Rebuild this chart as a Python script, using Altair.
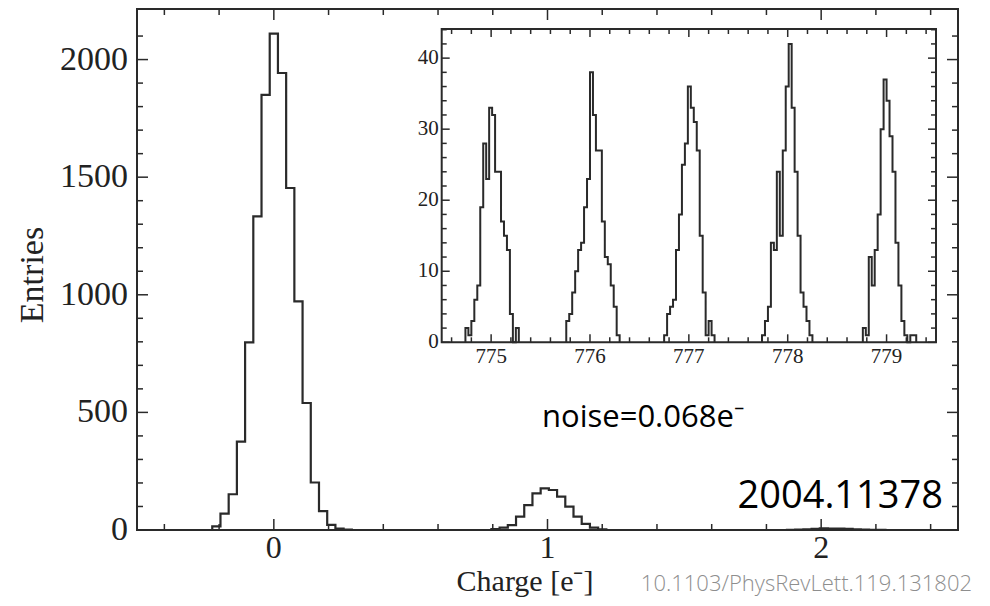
import altair as alt
import pandas as pd

# ---------------- data ----------------
BIN_W = 0.03
# main histogram: (first bin left edge, counts)
main_start_0 = -0.225
main_counts_0 = [15, 70, 152, 376, 798, 1333, 1850, 2110, 1943, 1454, 972, 540, 202, 80, 22, 6, 2]
main_start_1 = 0.795
main_counts_1 = [4, 10, 21, 57, 106, 156, 177, 170, 142, 99, 57, 26, 10, 3]
main_start_2 = 1.875
main_counts_2 = [1, 2, 3, 5, 7, 6, 6, 5, 3, 2, 1, 1]

# inset histogram peaks
inset_starts = [774.74, 775.76, 776.75, 777.74, 778.76]
inset_775 = [2, 1, 3, 6, 8, 19, 28, 23, 33, 32, 24, 24, 17, 15, 13, 4, 0, 2]
inset_776 = [3, 4, 7, 10, 13, 14, 19, 23, 38, 32, 27, 27, 17, 12, 11, 8, 5, 1]
inset_777 = [1, 4, 5, 6, 13, 18, 25, 28, 36, 33, 31, 27, 15, 7, 1, 3, 1]
inset_778 = [1, 3, 5, 14, 13, 24, 15, 27, 36, 42, 33, 24, 15, 7, 5, 3, 1]
inset_779 = [2, 1, 12, 8, 13, 18, 30, 37, 34, 29, 24, 14, 8, 3, 1, 0, 1, 1]

main_x_domain = [-0.5, 2.5]
main_y_domain = [0, 2215]
inset_x_domain = [774.5, 779.5]
inset_y_domain = [0, 44.1]

main_x_major = [0, 1, 2]
main_x_labels = ["0", "1", "2"]
main_x_minor = [-0.4, -0.2, 0.2, 0.4, 0.6, 0.8, 1.2, 1.4, 1.6, 1.8, 2.2, 2.4]
main_y_major = [0, 500, 1000, 1500, 2000]
main_y_labels = ["0", "500", "1000", "1500", "2000"]
main_y_minor = [100, 200, 300, 400, 600, 700, 800, 900, 1100, 1200, 1300, 1400,
                1600, 1700, 1800, 1900, 2100]
inset_x_major = [775, 776, 777, 778, 779]
inset_x_labels = ["775", "776", "777", "778", "779"]
inset_x_minor = [774.6, 774.8, 775.2, 775.4, 775.6, 775.8, 776.2, 776.4, 776.6, 776.8,
                 777.2, 777.4, 777.6, 777.8, 778.2, 778.4, 778.6, 778.8, 779.2, 779.4]
inset_y_major = [0, 10, 20, 30, 40]
inset_y_labels = ["0", "10", "20", "30", "40"]
inset_y_minor = [2, 4, 6, 8, 12, 14, 16, 18, 22, 24, 26, 28, 32, 34, 36, 38, 42, 44]

x_title = "Charge [e⁻]"
y_title = "Entries"
noise_label = "noise=0.068e⁻"
arxiv_label = "2004.11378"
doi_label = "10.1103/PhysRevLett.119.131802"

# ---------------- layout constants ----------------
W, H = 821, 521
IX0, IX1, IY0, IY1 = 304.7, 799.0, 333.3, 20.0   # inset box in plot pixels
INK = "#2a2a2a"
SERIF = "Liberation Serif"
SANS = "Open Sans"


def steps(start, counts, name):
    rows = [{"x": round(start, 4), "y": 0}]
    for i, c in enumerate(counts):
        rows.append({"x": round(start + i * BIN_W, 4), "y": c})
    rows.append({"x": round(start + len(counts) * BIN_W, 4), "y": 0})
    for j, r in enumerate(rows):
        r["i"] = j
        r["s"] = name
    return rows


main_df = pd.DataFrame(
    steps(main_start_0, main_counts_0, "p0")
    + steps(main_start_1, main_counts_1, "p1")
    + steps(main_start_2, main_counts_2, "p2")
)
inset_df = pd.DataFrame(
    sum([steps(s, c, f"q{k}") for k, (s, c) in enumerate(
        zip(inset_starts, [inset_775, inset_776, inset_777, inset_778, inset_779]))], [])
)

mxs = alt.Scale(domain=main_x_domain, nice=False, zero=False)
mys = alt.Scale(domain=main_y_domain, nice=False, zero=False)
ixs = alt.Scale(domain=inset_x_domain, range=[IX0, IX1], nice=False, zero=False)
iys = alt.Scale(domain=inset_y_domain, range=[IY0, IY1], nice=False, zero=False)


def xticks(vals, scale, y_edge, length, direction):
    d = pd.DataFrame({"t": vals})
    return alt.Chart(d).mark_rule(color=INK, strokeWidth=1.5).encode(
        x=alt.X("t:Q", scale=scale, axis=None),
        y=alt.value(y_edge), y2=alt.value(y_edge + direction * length))


def yticks(vals, scale, x_edge, length, direction):
    d = pd.DataFrame({"t": vals})
    return alt.Chart(d).mark_rule(color=INK, strokeWidth=1.5).encode(
        y=alt.Y("t:Q", scale=scale, axis=None),
        x=alt.value(x_edge), x2=alt.value(x_edge + direction * length))


def xlabels(vals, labels, scale, y_pos, size):
    d = pd.DataFrame({"t": vals, "l": labels})
    return alt.Chart(d).mark_text(
        font=SERIF, fontSize=size, color="#222", align="center", baseline="middle"
    ).encode(x=alt.X("t:Q", scale=scale, axis=None), y=alt.value(y_pos), text="l:N")


def ylabels(vals, labels, scale, x_pos, size):
    d = pd.DataFrame({"t": vals, "l": labels})
    return alt.Chart(d).mark_text(
        font=SERIF, fontSize=size, color="#222", align="right", baseline="middle"
    ).encode(y=alt.Y("t:Q", scale=scale, axis=None), x=alt.value(x_pos), text="l:N")


def free_text(txt, x, y, **kw):
    return alt.Chart(pd.DataFrame({"l": [txt]})).mark_text(**kw).encode(
        x=alt.value(x), y=alt.value(y), text="l:N")


# ---------------- main panel ----------------
main_hist = alt.Chart(main_df).mark_line(
    interpolate="step-after", color=INK, strokeWidth=2.2
).encode(
    x=alt.X("x:Q", scale=mxs, axis=None),
    y=alt.Y("y:Q", scale=mys, axis=None),
    detail="s:N",
    order="i:Q",
)

main_ticks = [
    xticks(main_x_major, mxs, H, 11, -1), xticks(main_x_minor, mxs, H, 6, -1),
    xticks(main_x_major, mxs, 0, 11, 1), xticks(main_x_minor, mxs, 0, 6, 1),
    yticks(main_y_major, mys, 0, 11, 1), yticks(main_y_minor, mys, 0, 6, 1),
    yticks(main_y_major, mys, W, 11, -1), yticks(main_y_minor, mys, W, 6, -1),
]
main_labels = [
    xlabels(main_x_major, main_x_labels, mxs, H + 18, 32),
    ylabels(main_y_major, main_y_labels, mys, -9, 34),
    free_text(x_title, 388, 582, font=SERIF, fontSize=30, color="#222",
              align="center", baseline="alphabetic"),
    free_text(y_title, -104, 266, font=SERIF, fontSize=34, color="#222",
              align="center", baseline="middle", angle=270),
    free_text(noise_label, 405, 418, font=SANS, fontSize=31, color="black",
              align="left", baseline="alphabetic"),
    free_text(arxiv_label, 806, 499, font=SANS, fontSize=38, color="black",
              align="right", baseline="alphabetic"),
    free_text(doi_label, 835, 575, font=SANS, fontSize=22, fontWeight=300,
              color="#8e8e8e", align="right", baseline="middle"),
]

main_layer = alt.layer(main_hist, *main_ticks, *main_labels)

# ---------------- inset ----------------
box_df = pd.DataFrame({"x0": [inset_x_domain[0]], "x1": [inset_x_domain[1]],
                       "y0": [inset_y_domain[0]], "y1": [inset_y_domain[1]]})
inset_box = alt.Chart(box_df).mark_rect(fill="white", stroke=INK, strokeWidth=2).encode(
    x=alt.X("x0:Q", scale=ixs, axis=None), x2="x1:Q",
    y=alt.Y("y0:Q", scale=iys, axis=None), y2="y1:Q")

inset_hist = alt.Chart(inset_df).mark_line(
    interpolate="step-after", color=INK, strokeWidth=2
).encode(
    x=alt.X("x:Q", scale=ixs, axis=None),
    y=alt.Y("y:Q", scale=iys, axis=None),
    detail="s:N", order="i:Q",
)

inset_ticks = [
    xticks(inset_x_major, ixs, IY0, 8, -1), xticks(inset_x_minor, ixs, IY0, 5, -1),
    xticks(inset_x_major, ixs, IY1, 8, 1), xticks(inset_x_minor, ixs, IY1, 5, 1),
    yticks(inset_y_major, iys, IX0, 8, 1), yticks(inset_y_minor, iys, IX0, 5, 1),
    yticks(inset_y_major, iys, IX1, 8, -1), yticks(inset_y_minor, iys, IX1, 5, -1),
]

inset_labels = [
    xlabels(inset_x_major, inset_x_labels, ixs, IY0 + 15, 21),
    ylabels(inset_y_major, inset_y_labels, iys, IX0 - 3, 21),
]

inset_layer = alt.layer(inset_box, *inset_ticks, inset_hist, *inset_labels)

chart = alt.layer(main_layer, inset_layer).resolve_scale(
    x="independent", y="independent"
).properties(
    width=W, height=H,
    padding={"left": 129, "top": 1, "right": 24, "bottom": 68},
    autosize=alt.AutoSizeParams(type="none"),
).configure_view(stroke=INK, strokeWidth=2)

chart.save("out.html", embed_options={"renderer": "svg", "actions": False})
